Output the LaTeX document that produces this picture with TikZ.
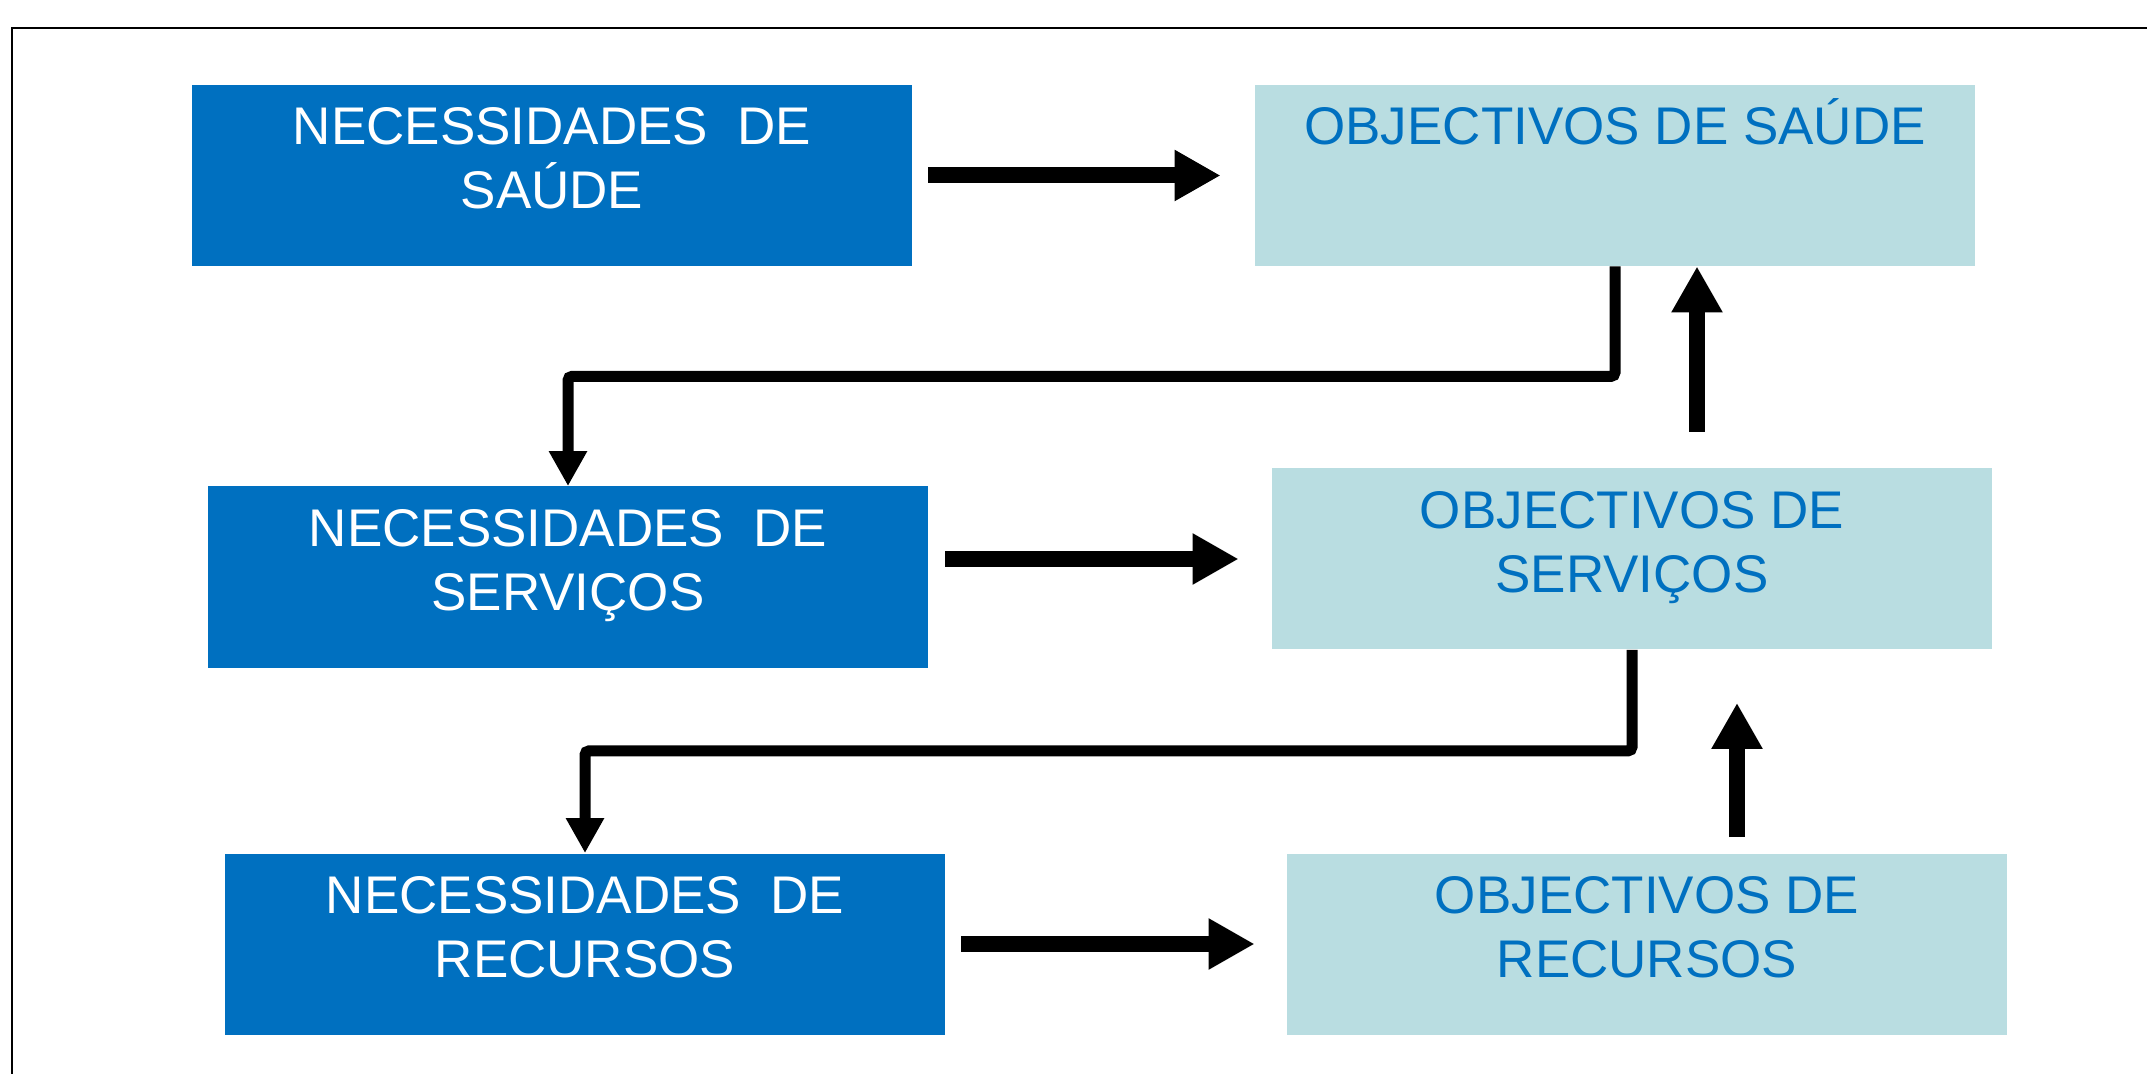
\documentclass[tikz,border=0pt]{standalone}
\usepackage{fontspec}
\setmainfont{Liberation Sans}
\usetikzlibrary{arrows.meta,calc}
\definecolor{needblue}{RGB}{0,112,192}
\definecolor{goalcyan}{RGB}{185,221,225}

\begin{document}
\begin{tikzpicture}[x=0.5pt,y=0.5pt,
  needbox/.style={fill=needblue,minimum width=360pt,minimum height=90.5pt},
  goalbox/.style={fill=goalcyan,minimum width=360pt,minimum height=90.5pt},
  boxtext/.style={anchor=base,align=center,font=\fontsize{26.5}{32}\selectfont},
  fatarrow/.style={line width=8pt,-{Triangle[length=23pt,width=24pt]}},
  elbow/.style={line width=5.5pt,rounded corners=2pt,-{Triangle[length=17.5pt,width=18pt]}}]
\tikzstyle{every node}+=[inner sep=0pt]
\useasboundingbox (0,0) rectangle (2147,-1074);
\draw [black,line width=1.3pt] (12,-1074) -- (12,-28) -- (2147,-28);
\node [needbox] (ns1) at (552,-175.5) {};
\node [goalbox] (os1) at (1615,-175.5) {};
\node [needbox] (ns2) at (568,-577) {};
\node [goalbox] (os2) at (1632,-559) {};
\node [needbox] (ns3) at (585,-944) {};
\node [goalbox] (os3) at (1647,-944) {};
\node [boxtext,white] (ns1txt) at ([yshift=-62pt]ns1.north) {NECESSIDADES\ \ DE\\SAÚDE};
\node [boxtext,needblue] (os1txt) at ([yshift=-30pt]os1.north) {OBJECTIVOS DE SAÚDE};
\node [boxtext,white] (ns2txt) at ([yshift=-62pt]ns2.north) {NECESSIDADES\ \ DE\\SERVIÇOS};
\node [boxtext,needblue] (os2txt) at ([yshift=-62pt]os2.north) {OBJECTIVOS DE\\SERVIÇOS};
\node [boxtext,white] (ns3txt) at ([yshift=-62pt]ns3.north) {NECESSIDADES\ \ DE\\RECURSOS};
\node [boxtext,needblue] (os3txt) at ([yshift=-62pt]os3.north) {OBJECTIVOS DE\\RECURSOS};
\draw [fatarrow] ($(ns1.east)+(16,0)$) -- ($(os1.west)+(-34,0)$);
\draw [fatarrow] ($(ns2.east |- os2.west)+(17,0)$) -- ($(os2.west)+(-33,0)$);
\draw [fatarrow] ($(ns3.east)+(16,0)$) -- ($(os3.west)+(-32,0)$);
\coordinate (u1) at (1697,-432);
\coordinate (u2) at (1737,-837);
\draw [fatarrow] (u1) -- (u1 |- os1.south);
\draw [fatarrow] (u2) -- ($(u2 |- os2.south)+(0,-53)$);
\draw [elbow] (os1.south) -- ++(0,-110) -| (ns2.north);
\draw [elbow] (os2.south) -- ++(0,-101) -| (ns3.north);
\end{tikzpicture}
\end{document}
